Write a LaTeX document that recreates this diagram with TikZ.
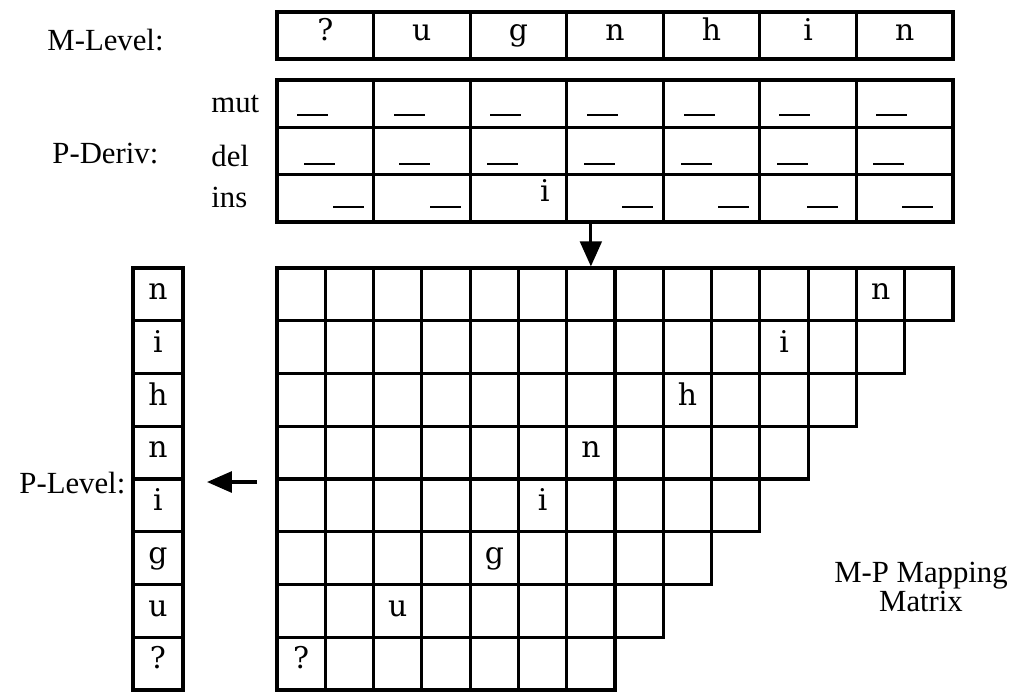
\documentclass[tikz,border=0pt]{standalone}
\usepackage{fontspec}
\setmainfont{Liberation Serif}
\newfontfamily\cellfont{DejaVu Serif}
\usetikzlibrary{positioning,arrows.meta}

\begin{document}
\begin{tikzpicture}[x=0.02cm, y=-0.02cm, line width=1.8pt,
    every node/.style={font=\fontsize{17.5}{16.5}\selectfont},
    lettered/.style={font=\cellfont\fontsize{17}{17}\selectfont, text height=1.6ex, text depth=0.3ex},
    mcell/.style={draw, lettered, minimum width=1.931cm, minimum height=0.94cm, inner sep=0pt},
    dcell/.style={draw, lettered, minimum width=1.931cm, minimum height=0.947cm, inner sep=0pt},
    gcell/.style={draw, lettered, minimum width=0.966cm, minimum height=1.055cm, inner sep=0pt},
    dashbar/.style={fill, minimum width=0.62cm, minimum height=0.045cm, inner sep=0pt}]
  \useasboundingbox (0,0) rectangle (1013,694);

  % M-level
  \node[anchor=base west] (mlab) at (40,50) {M-Level:};
  \foreach \ch [count=\i] in {?,u,g,n,h,i,n}
    \node[mcell] (m\i) at ({277+96.57*(\i-0.5)},35.5) {\ch};

  % P-deriv table
  \node[anchor=base west] (dlab) at (45,163) {P-Deriv:};
  \node[anchor=base west] (mut) at (204,112) {mut};
  \node[anchor=base west] (del) at (204,166) {del};
  \node[anchor=base west] (ins) at (204,207) {ins};
  \foreach \r in {1,2,3}
    \foreach \c in {1,...,7}
      \node[dcell] (d\r-\c) at ({277+96.57*(\c-0.5)},{80+47.33*(\r-0.5)}) {};
  \foreach \x [count=\c] in {312,409,505,602,699,794,891}
    \node[dashbar] (mu\c) at (\x,115) {};
  \foreach \x [count=\c] in {319,414,502,599,696,792,888}
    \node[dashbar] (de\c) at (\x,164) {};
  \foreach \x [count=\c] in {348,445,637,733,822,917}
    \node[dashbar] (in\c) at (\x,207) {};
  \node[lettered] (ii) at (545,196) {i};

  % mapping matrix
  \foreach \r in {1,...,8} {
    \pgfmathtruncatemacro\nc{15-\r}
    \foreach \c in {1,...,\nc}
      \node[gcell] (x\r-\c) at ({277+48.29*(\c-0.5)},{268+52.75*(\r-0.5)}) {};
  }
  \foreach \r/\c/\ch in {1/13/n,2/11/i,3/9/h,4/7/n,5/6/i,6/5/g,7/3/u,8/1/?}
    \node[lettered] (t\r) at (x\r-\c) {\ch};
  \node[anchor=north, align=center, inner sep=0pt] (mpm) at (921,561) {M-P Mapping\\Matrix};

  % P-level
  \node[anchor=base west] (plab) at (12,493) {P-Level:};
  \foreach \ch [count=\r] in {n,i,h,n,i,g,u,?}
    \node[gcell, minimum width=1cm] (p\r) at (158,{268+52.75*(\r-0.5)}) {\ch};

  \coordinate (lfrom) at (257,482);
  \coordinate (lto) at (207,482);
  \draw[-{Triangle[length=0.5cm,width=0.43cm]}] (x1-7.north |- d3-4.south) -- (x1-7.north);
  \draw[-{Triangle[length=0.5cm,width=0.42cm]}] (lfrom) -- (lto);
\end{tikzpicture}
\end{document}
